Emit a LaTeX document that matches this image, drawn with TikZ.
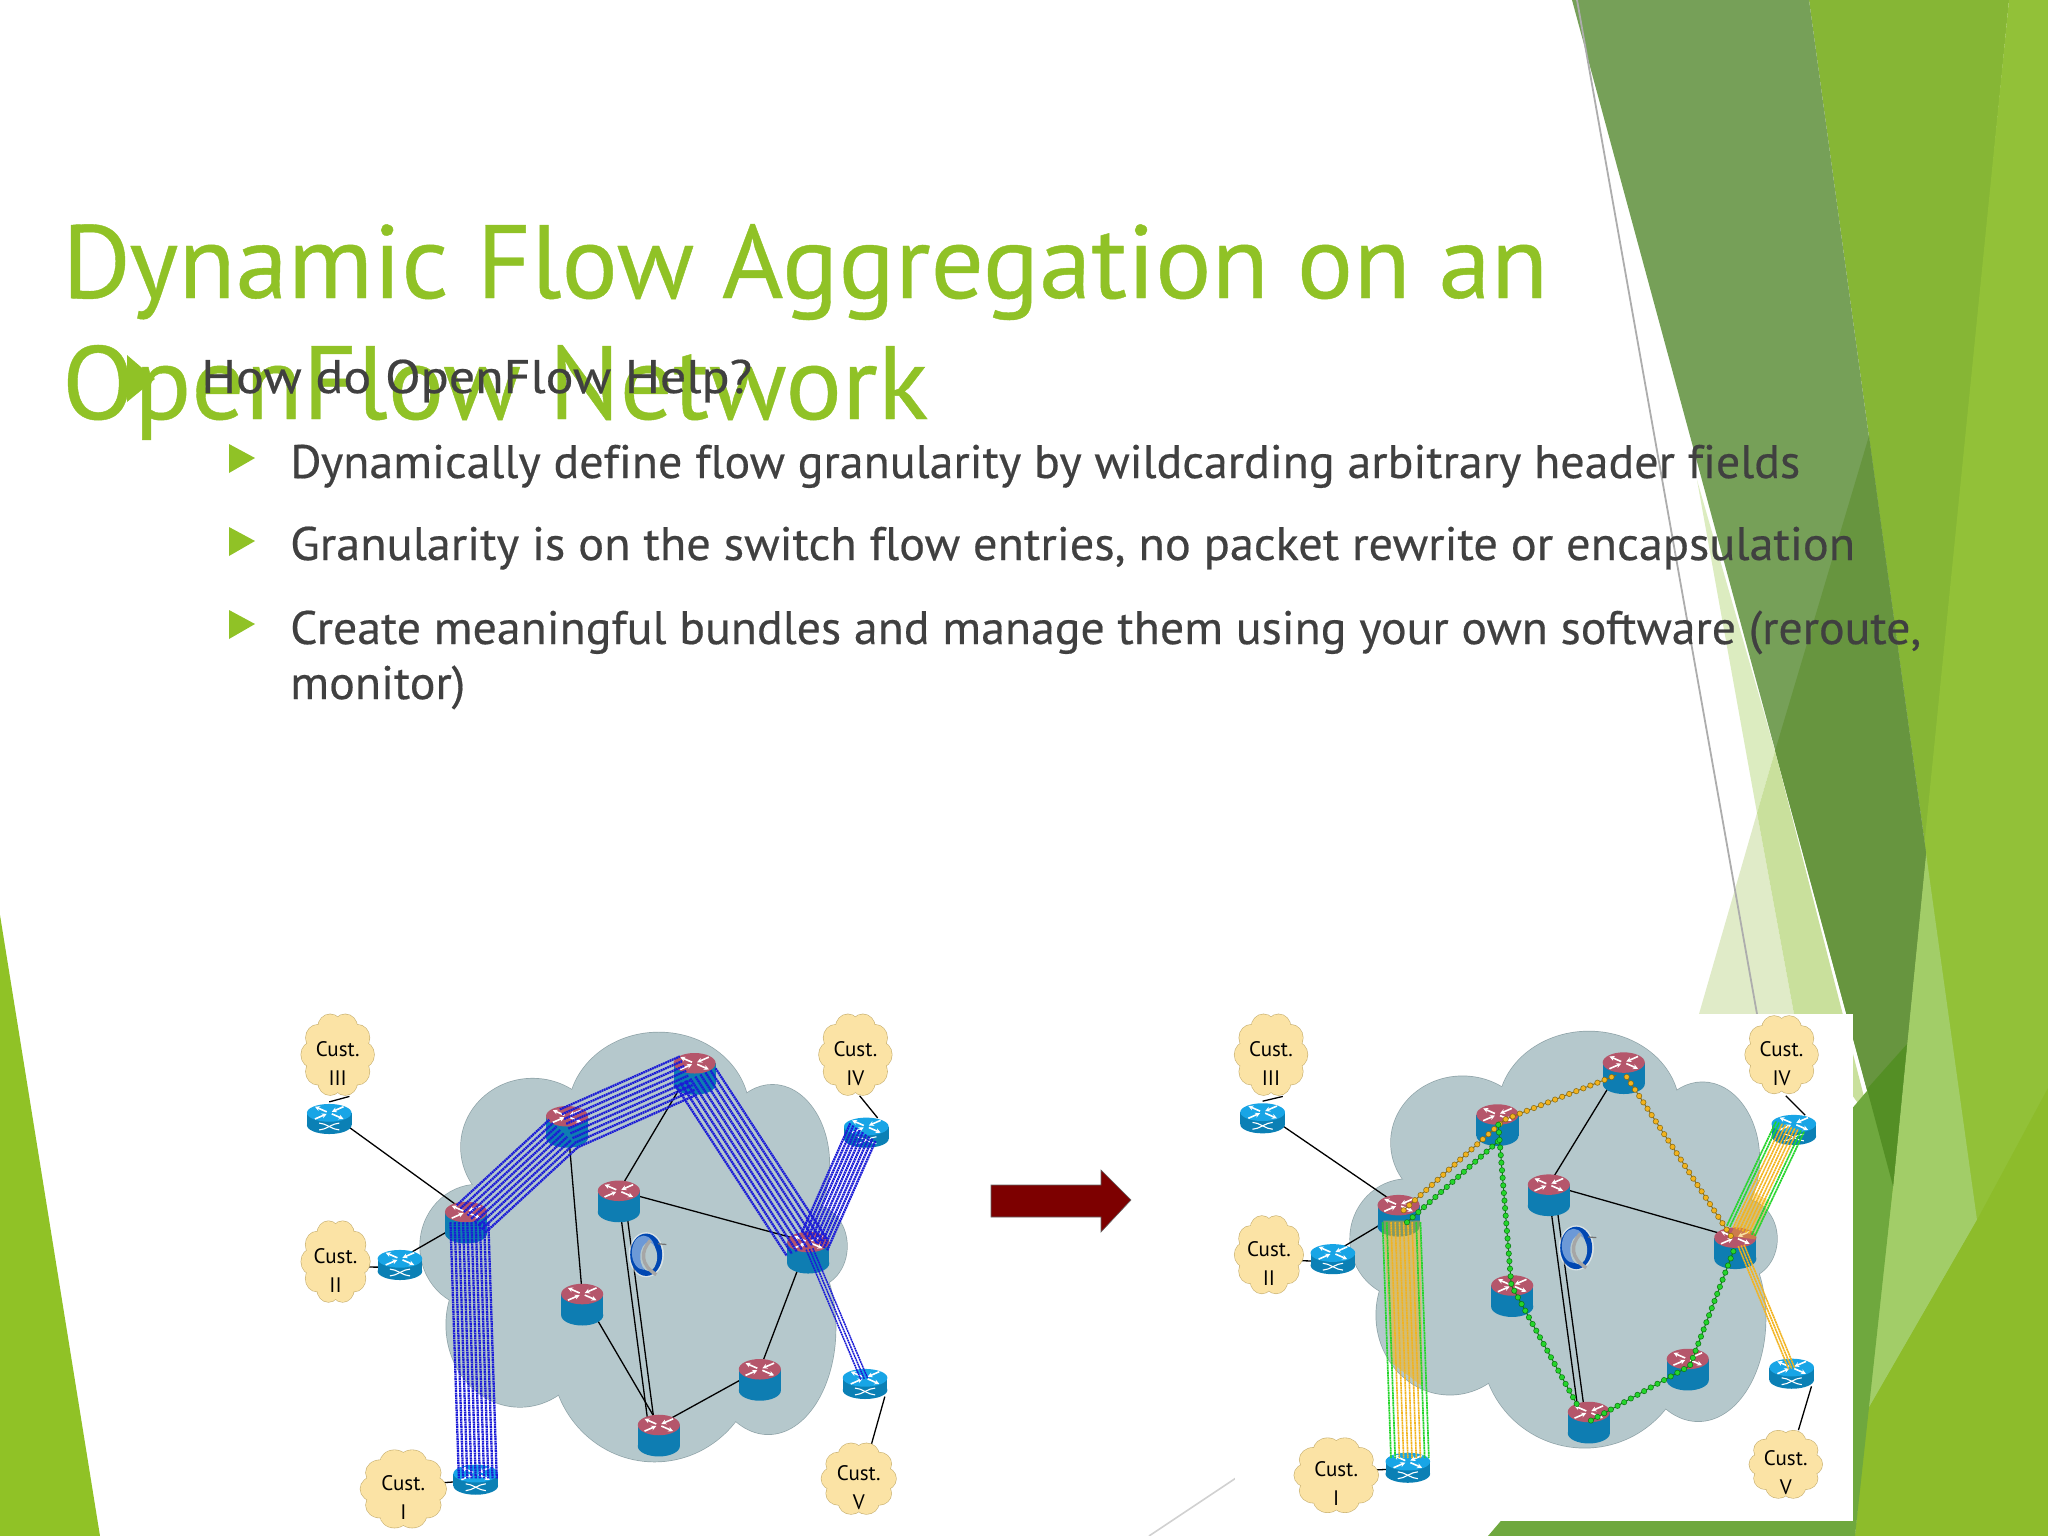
\documentclass[tikz,border=0pt]{standalone}
\usepackage{fontspec}
\usepackage{graphicx}
\setmainfont{PT Sans}[Ligatures=CommonOff]
\newfontfamily\slidefont{PT Sans}[Ligatures=CommonOff,FakeBold=0.4]
\usetikzlibrary{calc,arrows.meta}
\definecolor{accent}{HTML}{90C226}
\definecolor{bodytxt}{HTML}{404040}
\definecolor{cloudgray}{HTML}{B5C8CC}
\definecolor{cloudline}{HTML}{8FA3A8}
\definecolor{custfill}{HTML}{FBE3A5}
\definecolor{custline}{HTML}{C9B273}
\definecolor{capred}{HTML}{B5566B}
\definecolor{bodyblue}{HTML}{0E7DB2}
\definecolor{swtop}{HTML}{18A5E6}
\definecolor{swbody}{HTML}{0B80B5}
\definecolor{flowblue}{HTML}{1A1AD6}
\definecolor{floworange}{HTML}{F2B31E}
\definecolor{flowgreen}{HTML}{24D52B}
\definecolor{orangecase}{HTML}{8C6D12}
\definecolor{greencase}{HTML}{0F7A14}
\tikzset{
  titletext/.style={anchor=base west,inner sep=0,text=accent,font=\slidefont\fontsize{104}{104}\selectfont},
  bodyline/.style={anchor=base west,inner sep=0,text=bodytxt,font=\slidefont\fontsize{47}{47}\selectfont},
  bulletmark/.style={fill=accent},
  link/.style={black,line width=1.3pt},
  custtext/.style={inner sep=0,align=center,text=black,font=\fontsize{21}{29}\selectfont},
  blueflow/.style={flowblue,line width=2.3pt,dash pattern=on 1.8pt off 0.6pt},
  bluethin/.style={flowblue,line width=1.5pt,dash pattern=on 1.8pt off 0.6pt},
  orangeflow/.style={floworange,line width=1.6pt,dash pattern=on 2pt off 0.5pt},
  greenflow/.style={flowgreen,line width=1.7pt,dash pattern=on 2pt off 0.5pt},
  dotcore/.style={line width=1pt},
  dotcase/.style={line width=6pt,line cap=round,dash pattern=on 0pt off 7.6pt},
  dotfill/.style={line width=4.5pt,line cap=round,dash pattern=on 0pt off 7.6pt},
  facet/.style={draw=none}
}
\newcommand{\fitw}[2]{\resizebox{#1pt}{\height}{#2}}
\newcommand{\bigcloud}{%
  \def\blobs{{900/330/215/235},{600/430/170/200},{470/720/137/180},{890/1040/245/310},{1160/960/160/310},{1170/480/135/232},{1265/720/82/120},{570/950/175/240},{850/700/400/450}}%
  \foreach \bl in \blobs {\expandafter\drawblob\bl\relax}%
  \foreach \bl in \blobs {\expandafter\fillblob\bl\relax}%
}
\def\drawblob#1/#2/#3/#4\relax{\draw[cloudline,line width=1.4pt] (#1,#2) ellipse [x radius=#3,y radius=#4];}
\def\fillblob#1/#2/#3/#4\relax{\fill[cloudgray] (#1,#2) ellipse [x radius=#3,y radius=#4];}
\newcommand{\lidarrows}{%
  \draw[white,line width=1.6pt,-{Stealth[length=5pt,width=5pt]}] (-6,-3) -- (-34,-18);
  \draw[white,line width=1.6pt,-{Stealth[length=5pt,width=5pt]}] (6,3) -- (34,18);
  \draw[white,line width=1.6pt,-{Stealth[length=5pt,width=5pt]}] (-34,18) -- (-6,3);
  \draw[white,line width=1.6pt,-{Stealth[length=5pt,width=5pt]}] (34,-18) -- (6,-3);
}
\newcommand{\routericon}[1]{%
  \begin{scope}[shift={(#1)}]
    \fill[bodyblue] (0,62) ellipse [x radius=50,y radius=30];
    \fill[bodyblue] (-50,0) rectangle (50,62);
    \fill[capred] (0,0) ellipse [x radius=50,y radius=30];
    \lidarrows
  \end{scope}}
\newcommand{\switchicon}[1]{%
  \begin{scope}[shift={(#1)}]
    \fill[swbody] (0,36) ellipse [x radius=53,y radius=26];
    \fill[swbody] (-53,0) rectangle (53,36);
    \fill[swtop] (0,0) ellipse [x radius=53,y radius=26];
    \lidarrows
    \draw[white,line width=1.1pt] (-24,30) .. controls (-8,30) and (8,50) .. (24,50);
    \draw[white,line width=1.1pt] (-24,50) .. controls (-8,50) and (8,30) .. (24,30);
  \end{scope}}
\newcommand{\custcloud}[5]{%
  \begin{scope}[shift={(#1)}]
    \foreach \a in {0,36,...,324} {\draw[custline,line width=1.2pt] ({0.68*#2*cos(\a)},{0.7*#3*sin(\a)}) ellipse [x radius={0.34*#2},y radius={0.32*#3}];}
    \foreach \a in {0,36,...,324} {\fill[custfill] ({0.68*#2*cos(\a)},{0.7*#3*sin(\a)}) ellipse [x radius={0.34*#2},y radius={0.32*#3}];}
    \fill[custfill] (0,0) ellipse [x radius={0.72*#2},y radius={0.75*#3}];
    \node[custtext] (#5) at (0,25) {Cust.\\#4};
  \end{scope}}
\newcommand{\globeicon}[1]{%
  \begin{scope}[shift={(#1)}]
    \fill[white,opacity=.5] (0,0) ellipse [x radius=42,y radius=66];
    \fill[blue!60!cyan!70!black] (0,0) ellipse [x radius=38,y radius=62];
    \fill[cyan!50!blue!60] (-6,-6) ellipse [x radius=28,y radius=50];
    \fill[cloudgray] (6,6) ellipse [x radius=20,y radius=42];
    \draw[black!35,line width=3.4pt] (10,-42) .. controls (-14,-10) and (-14,30) .. (24,58);
    \draw[black!55,line width=1.2pt] (28,-32) -- (48,-30);
  \end{scope}}
\newcommand{\bundle}[7]{%
  \foreach \i in {#6} {\draw[#7] ($(#1)+(#3)+\i*(#5)$) -- ($(#2)+(#4)+\i*(#5)$);}}
\newcommand{\netbase}[2]{%
  \begin{scope}[yscale=#2]\bigcloud\end{scope}%
  \draw[link] (#1S3) -- (#1A);
  \draw[link] (#1S2) -- ($(#1A)+(-20,40)$);
  \draw[link] ($(#1S2)+(0,25)$) -- ($(#1C2)+(0,15)$);
  \draw[link] ($(#1S1)+(0,20)$) -- ($(#1C1)+(0,-10)$);
  \draw[link] ($(#1C3)+(28,122)$) -- ($(#1S3)+(0,-32)$);
  \draw[link] ($(#1C4)+(10,120)$) -- ($(#1S4)+(27,-25)$);
  \draw[link] ($(#1S5)+(47,55)$) -- ($(#1C5)+(30,-100)$);
  \draw[link] (#1C) -- (#1D);
  \draw[link] (#1D) -- (#1F);
  \draw[link] ($(#1D)+(-3,0)$) -- ($(#1H)+(-25,0)$);
  \draw[link] ($(#1D)+(12,0)$) -- ($(#1H)+(-10,0)$);
}
\newcommand{\neticons}[1]{%
  \foreach \r in {A,B,C,D,E,F,G,H} {\routericon{#1\r}}
  \foreach \s in {S1,S2,S3,S4,S5} {\switchicon{#1\s}}
  \globeicon{#1Q}
}
\begin{document}
\begin{tikzpicture}[x=1pt,y=-1pt]
\useasboundingbox (0,0) rectangle (2048,1536);
\fill[white] (0,0) rectangle (2048,1536);
\fill[facet,accent] (0,915) -- (100,1536) -- (0,1536) -- cycle;
\fill[facet,fill={rgb,255:red,134;green,182;blue,53}] (1809,0) -- (2009,0) -- (1926,853) -- cycle;
\fill[facet,fill={rgb,255:red,146;green,193;blue,56}] (2009,0) -- (2048,0) -- (2048,1536) -- (1855,1536) -- cycle;
\fill[facet,fill={rgb,255:red,162;green,205;blue,104}] (1926,853) -- (1977,1220) -- (1867,1411) -- (1893,1186) -- cycle;
\fill[facet,fill={rgb,255:red,141;green,188;blue,43}] (2048,1088) -- (1977,1220) -- (1867,1411) -- (1855,1536) -- (2048,1536) -- cycle;
\fill[facet,fill={rgb,255:red,118;green,160;blue,88}] (1572,0) -- (1809,0) -- (1926,853) -- (1893,1186) -- cycle;
\fill[facet,fill={rgb,255:red,103;green,149;blue,63}] (1869,436) -- (1926,853) -- (1893,1186) -- (1775,751) -- cycle;
\fill[facet,fill={rgb,255:red,220;green,236;blue,192}] (1697,480) -- (1775,751) -- (1757,813) -- cycle;
\fill[facet,fill={rgb,255:red,224;green,235;blue,200}] (1699,1014) -- (1757,813) -- (1794,1014) -- cycle;
\fill[facet,fill={rgb,255:red,201;green,224;blue,156}] (1757,813) -- (1775,751) -- (1870,1120) -- (1794,1014) -- cycle;
\fill[facet,fill={rgb,255:red,111;green,168;blue,62}] (1488,1536) -- (1907,1044) -- (1893,1186) -- (1855,1536) -- cycle;
\fill[facet,fill={rgb,255:red,84;green,143;blue,37}] (1907,1044) -- (1867,1089) -- (1893,1186) -- cycle;
\coordinate (greyTop) at (1577,0);
\coordinate (greyEnd) at (1757,1014);
\coordinate (greyLowA) at (1149,1536);
\coordinate (greyLowB) at (1236,1478);
\draw[black!32,line width=1.8pt] (greyTop) -- (greyEnd);
\draw[black!18,line width=1.6pt] (greyLowA) -- (greyLowB);
\fill[white] (1235,1014) rectangle (1853,1521);
% left network
\begin{scope}[shift={(280,1000)},x=0.4209pt,y=-0.3419pt]
  \coordinate (LA) at (442,620); \coordinate (LB) at (682,340); \coordinate (LC) at (985,185);
  \coordinate (LD) at (805,558); \coordinate (LE) at (718,860); \coordinate (LF) at (1255,708);
  \coordinate (LG) at (1140,1080); \coordinate (LH) at (900,1243);
  \coordinate (LS3) at (117,330); \coordinate (LS2) at (285,757); \coordinate (LS1) at (465,1385);
  \coordinate (LS4) at (1393,370); \coordinate (LS5) at (1390,1105);
  \coordinate (LC3) at (137,160); \coordinate (LC2) at (132,765); \coordinate (LC1) at (293,1430);
  \coordinate (LC4) at (1367,160); \coordinate (LC5) at (1375,1400); \coordinate (LQ) at (870,745);
  \netbase{L}{1}
  \draw[link] (LB) -- (LE);
  \draw[link] (LE) -- (LH);
  \draw[link] (LH) -- (LG);
  \draw[link] (LG) -- (LF);
  \neticons{L}
  \custcloud{LC3}{85}{120}{III}{Lt3}
  \custcloud{LC2}{80}{120}{II}{Lt2}
  \custcloud{LC1}{100}{115}{I}{Lt1}
  \custcloud{LC4}{85}{120}{IV}{Lt4}
  \custcloud{LC5}{87}{105}{V}{Lt5}
  \bundle{LA}{LS1}{-37,30}{-40,15}{10,0}{0,...,9}{blueflow}
  \bundle{LA}{LB}{-22,-20}{-42,10}{8.5,10}{0,...,8}{blueflow}
  \bundle{LB}{LC}{-17,-20}{-35,-20}{5,14}{0,...,8}{blueflow}
  \bundle{LC}{LF}{50,15}{45,-8}{-12,6}{0,...,8}{blueflow}
  \bundle{LF}{LS4}{-15,-28}{-38,-10}{7.5,6.5}{0,...,8}{blueflow}
  \bundle{LF}{LS5}{-5,22}{-10,5}{8,-2}{0,1,2}{bluethin}
\end{scope}
% right network
\begin{scope}[shift={(1210,1000)},x=0.4209pt,y=-0.3419pt]
  \coordinate (RA) at (448,600); \coordinate (RB) at (683,335); \coordinate (RC) at (983,183);
  \coordinate (RD) at (805,540); \coordinate (RE) at (718,835); \coordinate (RF) at (1248,695);
  \coordinate (RG) at (1135,1050); \coordinate (RH) at (900,1205);
  \coordinate (RS3) at (125,328); \coordinate (RS2) at (292,740); \coordinate (RS1) at (470,1350);
  \coordinate (RS4) at (1387,362); \coordinate (RS5) at (1382,1075);
  \coordinate (RC3) at (145,160); \coordinate (RC2) at (140,745); \coordinate (RC1) at (300,1390);
  \coordinate (RC4) at (1358,160); \coordinate (RC5) at (1368,1358); \coordinate (RQ) at (870,725);
  \netbase{R}{0.97}
  \neticons{R}
  \custcloud{RC3}{85}{120}{III}{Rt3}
  \custcloud{RC2}{80}{115}{II}{Rt2}
  \custcloud{RC1}{98}{110}{I}{Rt1}
  \custcloud{RC4}{85}{115}{IV}{Rt4}
  \custcloud{RC5}{85}{100}{V}{Rt5}
  \fill[floworange,opacity=.5] (412,645) -- (500,645) -- (505,1130) -- (430,1060) -- cycle;
  \fill[floworange,opacity=.4] (1235,690) -- (1290,560) -- (1330,590) -- (1295,700) -- cycle;
  \bundle{RA}{RS1}{-38,50}{-40,-10}{10,0}{0,1,8,9}{greenflow}
  \bundle{RA}{RS1}{-38,50}{-40,-10}{10,0}{2,...,7}{orangeflow}
  \bundle{RF}{RS4}{-20,-35}{-42,-7}{7.4,3.3}{0,1,8,9}{greenflow}
  \bundle{RF}{RS4}{-20,-35}{-42,-7}{7.4,3.3}{2,...,7}{orangeflow}
  \bundle{RF}{RS5}{7,25}{-7,5}{7,-2}{0,1,2}{orangeflow}
  \draw[orangecase,dotcore] ($(RA)+(12,15)$) -- ($(RB)+(17,15)$) -- ($(RC)+(-18,37)$);
  \draw[orangecase,dotcase] ($(RA)+(12,15)$) -- ($(RB)+(17,15)$) -- ($(RC)+(-18,37)$);
  \draw[floworange,dotfill] ($(RA)+(12,15)$) -- ($(RB)+(17,15)$) -- ($(RC)+(-18,37)$);
  \draw[orangecase,dotcore] ($(RC)+(7,42)$) -- ($(RF)+(-8,0)$);
  \draw[orangecase,dotcase] ($(RC)+(7,42)$) -- ($(RF)+(-8,0)$);
  \draw[floworange,dotfill] ($(RC)+(7,42)$) -- ($(RF)+(-8,0)$);
  \draw[greencase,dotcore] ($(RA)+(20,50)$) -- ($(RB)+(2,78)$);
  \draw[greencase,dotcase] ($(RA)+(20,50)$) -- ($(RB)+(2,78)$);
  \draw[flowgreen,dotfill] ($(RA)+(20,50)$) -- ($(RB)+(2,78)$);
  \draw[greencase,dotcore] ($(RB)+(2,30)$) -- ($(RE)+(-2,0)$) -- ($(RH)+(-25,-15)$);
  \draw[greencase,dotcase] ($(RB)+(2,30)$) -- ($(RE)+(-2,0)$) -- ($(RH)+(-25,-15)$);
  \draw[flowgreen,dotfill] ($(RB)+(2,30)$) -- ($(RE)+(-2,0)$) -- ($(RH)+(-25,-15)$);
  \draw[greencase,dotcore] ($(RH)+(5,25)$) -- ($(RG)+(5,20)$) -- ($(RF)+(-3,35)$);
  \draw[greencase,dotcase] ($(RH)+(5,25)$) -- ($(RG)+(5,20)$) -- ($(RF)+(-3,35)$);
  \draw[flowgreen,dotfill] ($(RH)+(5,25)$) -- ($(RG)+(5,20)$) -- ($(RF)+(-3,35)$);
\end{scope}
\fill[fill={rgb,255:red,125;green,0;blue,0},draw=black!60,line width=.6pt] (991,1185) -- (1101,1185) -- (1101,1170) -- (1131,1200) -- (1101,1232) -- (1101,1217) -- (991,1217) -- cycle;
\node[titletext] (t1) at (62,298) {\fitw{1486}{Dynamic Flow Aggregation on an}};
\node[titletext] (t2) at (62,419) {\fitw{866}{OpenFlow Network}};
\fill[bulletmark] (127,355) -- (127,402) -- (155,379) -- cycle;
\node[bodyline] (h0) at (201,393) {\fitw{551}{How do OpenFlow Help?}};
\fill[bulletmark] (229,444) -- (229,473) -- (255,458) -- cycle;
\node[bodyline] (h1) at (290,478) {\fitw{1510}{Dynamically define flow granularity by wildcarding arbitrary header fields}};
\fill[bulletmark] (229,527) -- (229,556) -- (255,541) -- cycle;
\node[bodyline] (h2) at (290,560) {\fitw{1565}{Granularity is on the switch flow entries, no packet rewrite or encapsulation}};
\fill[bulletmark] (229,610) -- (229,639) -- (255,624) -- cycle;
\node[bodyline] (h3) at (290,644) {\fitw{1631}{Create meaningful bundles and manage them using your own software (reroute,}};
\node[bodyline] (h4) at (290,699) {\fitw{175}{monitor)}};
\end{tikzpicture}
\end{document}
